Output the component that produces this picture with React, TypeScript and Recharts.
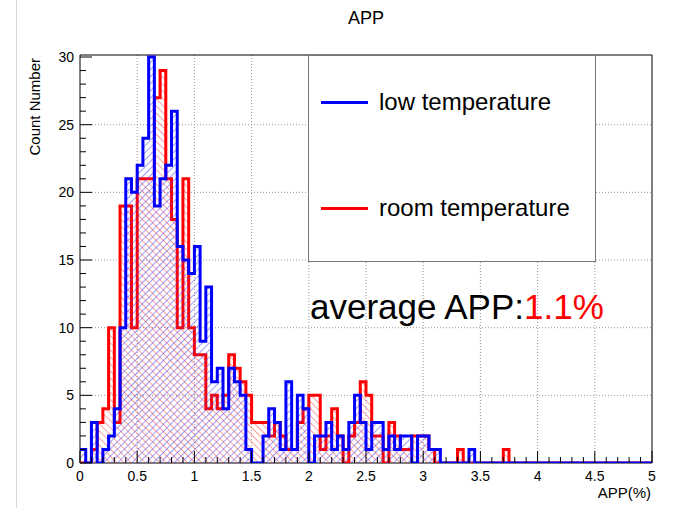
import {
  Area,
  CartesianGrid,
  ComposedChart,
  Legend,
  ReferenceArea,
  XAxis,
  YAxis,
} from "recharts";

const FONT = '"Liberation Sans", Arial, Helvetica, sans-serif';

// histogram bin width in APP(%), bins start at 0
const BIN_WIDTH = 0.05;
const X_MAX = 5;
const Y_MAX = 30.15;

// counts per bin, low temperature run
const lowTemp = [
  1, 0, 3, 0, 1, 2, 4, 10, 21, 20,
  22, 24, 30, 19, 21, 22, 26, 16, 15, 14,
  16, 9, 13, 6, 7, 4, 7, 6, 5, 1,
  0, 0, 2, 4, 3, 1, 6, 1, 5, 4,
  0, 2, 2, 3, 1, 2, 1, 3, 5, 3,
  1, 3, 3, 1, 2, 1, 2, 2, 0, 2,
  2, 1, 1, 0, 0, 0, 0, 0, 1, 0,
  0, 0, 0, 0, 0, 0, 0, 0, 0, 0,
  0, 0, 0, 0, 0, 0, 0, 0, 0, 0,
  0, 0, 0, 0, 0, 0, 0, 0, 0, 0,
];

// counts per bin, room temperature run
const roomTemp = [
  0, 0, 1, 3, 4, 10, 3, 19, 19, 10,
  21, 21, 21, 27, 29, 21, 18, 10, 21, 10,
  8, 8, 4, 5, 4, 5, 8, 7, 6, 5,
  3, 3, 3, 2, 3, 2, 1, 1, 3, 4,
  5, 5, 1, 2, 4, 2, 0, 2, 3, 6,
  5, 2, 2, 0, 3, 2, 1, 1, 2, 2,
  2, 1, 0, 0, 0, 0, 1, 0, 0, 0,
  0, 0, 0, 0, 1, 0, 0, 0, 0, 0,
  0, 0, 0, 0, 0, 0, 0, 0, 0, 0,
  0, 0, 0, 0, 0, 0, 0, 0, 0, 0,
];

const xTicks = Array.from({ length: 51 }, (_, i) => i / 10);
const xGrid = [0.5, 1, 1.5, 2, 2.5, 3, 3.5, 4, 4.5];
const yTicks = Array.from({ length: 31 }, (_, i) => i);
const yGrid = [5, 10, 15, 20, 25];

const data = lowTemp
  .map((low, i) => ({
    x: Math.round(i * BIN_WIDTH * 100) / 100,
    low,
    room: roomTemp[i],
  }))
  .concat({ x: X_MAX, low: 0, room: 0 });

const isMajorX = (v: number) => Math.abs(v * 2 - Math.round(v * 2)) < 1e-6;

function XTick({ x, y, payload }: any) {
  const v = payload.value as number;
  const major = isMajorX(v);
  return (
    <g>
      <line x1={x} x2={x} y1={y} y2={y - (major ? 12 : 6)} stroke="#000" strokeWidth={1} />
      {major && (
        <text x={x} y={y + 18} textAnchor="middle" fontSize={14} fontFamily={FONT} fill="#000">
          {String(v)}
        </text>
      )}
    </g>
  );
}

function YTick({ x, y, payload }: any) {
  const v = payload.value as number;
  const major = v % 5 === 0;
  return (
    <g>
      <line x1={x} x2={x + (major ? 12 : 6)} y1={y} y2={y} stroke="#000" strokeWidth={1} />
      {major && (
        <text x={x - 6} y={y + 5} textAnchor="end" fontSize={14} fontFamily={FONT} fill="#000">
          {String(v)}
        </text>
      )}
    </g>
  );
}

function LegendBox({ payload }: any) {
  const items = [...(payload ?? [])].sort((a: any, b: any) =>
    String(a.value).localeCompare(String(b.value))
  );
  return (
    <div
      style={{
        width: 288,
        height: 207,
        boxSizing: "border-box",
        border: "1px solid #777",
        background: "#fff",
        position: "relative",
        fontFamily: FONT,
      }}
    >
      {items.map((item: any, i: number) => (
        <div
          key={item.value}
          style={{
            position: "absolute",
            left: 12,
            top: 33 + i * 106,
            height: 26,
            display: "flex",
            alignItems: "center",
            whiteSpace: "nowrap",
          }}
        >
          <span style={{ display: "inline-block", width: 47, height: 3, background: item.color }} />
          <span style={{ marginLeft: 11, fontSize: 24, color: "#000" }}>{item.value}</span>
        </div>
      ))}
    </div>
  );
}

export default function App() {
  return (
    <div style={{ position: "absolute", left: 0, top: 0, width: 676, height: 508, background: "#fff" }}>
      <svg width={0} height={0} style={{ position: "absolute" }}>
        <defs>
          <pattern id="hatchLow" patternUnits="userSpaceOnUse" width={5} height={5} patternTransform="rotate(45)">
            <line x1={0} y1={0} x2={0} y2={5} stroke="#4040ff" strokeWidth={1} />
          </pattern>
          <pattern id="hatchRoom" patternUnits="userSpaceOnUse" width={5} height={5} patternTransform="rotate(-45)">
            <line x1={0} y1={0} x2={0} y2={5} stroke="#ff4040" strokeWidth={1} />
          </pattern>
        </defs>
      </svg>
      <ComposedChart
        width={676}
        height={508}
        data={data}
        margin={{ top: 55, right: 24, bottom: 15, left: 40 }}
      >
        <CartesianGrid
          stroke="#999"
          strokeDasharray="1 2"
          verticalValues={xGrid}
          horizontalValues={yGrid}
        />
        <ReferenceArea
          x1={0}
          x2={X_MAX}
          y1={0}
          y2={Y_MAX}
          fill="none"
          stroke="#000"
          strokeWidth={1}
          ifOverflow="visible"
        />
        <XAxis
          dataKey="x"
          type="number"
          domain={[0, X_MAX]}
          ticks={xTicks}
          interval={0}
          height={30}
          tickSize={0}
          tickMargin={0}
          tickLine={false}
          axisLine={false}
          tick={<XTick />}
          allowDataOverflow
        />
        <YAxis
          type="number"
          domain={[0, Y_MAX]}
          ticks={yTicks}
          interval={0}
          width={40}
          tickSize={0}
          tickMargin={0}
          tickLine={false}
          axisLine={false}
          tick={<YTick />}
          allowDataOverflow
        />
        <Legend
          layout="vertical"
          align="center"
          verticalAlign="middle"
          content={<LegendBox />}
          wrapperStyle={{ left: 308, top: 55, width: 288, height: 207 }}
        />
        <Area
          type="stepAfter"
          dataKey="room"
          name="room temperature"
          stroke="#ff0000"
          strokeWidth={3}
          fill="url(#hatchRoom)"
          fillOpacity={1}
          dot={false}
          activeDot={false}
          legendType="line"
          isAnimationActive={false}
        />
        <Area
          type="stepAfter"
          dataKey="low"
          name="low temperature"
          stroke="#0000ff"
          strokeWidth={3}
          fill="url(#hatchLow)"
          fillOpacity={1}
          dot={false}
          activeDot={false}
          legendType="line"
          isAnimationActive={false}
        />
      </ComposedChart>
      <svg
        width={676}
        height={508}
        style={{ position: "absolute", left: 0, top: 0, pointerEvents: "none" }}
        fontFamily={FONT}
      >
        <line x1={16.5} x2={16.5} y1={0} y2={508} stroke="#d8d8d8" strokeWidth={1} />
        <text x={366} y={24} textAnchor="middle" fontSize={18} fill="#000">
          APP
        </text>
        <text
          x={0}
          y={0}
          transform="translate(40, 58) rotate(-90)"
          textAnchor="end"
          fontSize={15}
          fill="#000"
        >
          Count Number
        </text>
        <text x={651} y={498} textAnchor="end" fontSize={15} fill="#000">
          APP(%)
        </text>
        <text x={310} y={319} fontSize={35} fill="#000">
          average APP:<tspan fill="#ff0000">1.1%</tspan>
        </text>
      </svg>
    </div>
  );
}
